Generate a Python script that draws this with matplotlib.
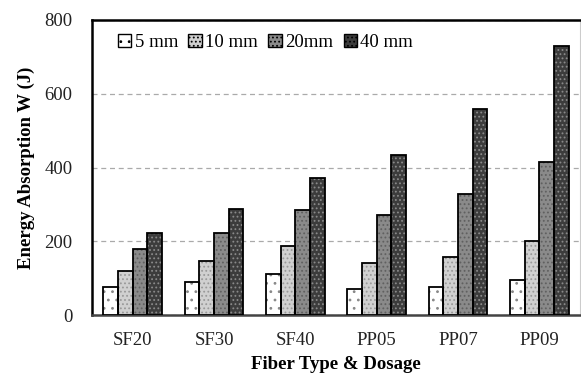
import matplotlib
matplotlib.use("Agg")
import matplotlib.pyplot as plt
import numpy as np

categories = ["SF20", "SF30", "SF40", "PP05", "PP07", "PP09"]
series_names = ["5 mm", "10 mm", "20mm", "40 mm"]
v5 = [76, 90, 111, 70, 75, 96]
v10 = [120, 147, 188, 140, 156, 202]
v20 = [178, 222, 285, 272, 327, 416]
v40 = [223, 287, 372, 435, 558, 730]
yticks = [0, 200, 400, 600, 800]

plt.rcParams['font.family'] = ['Liberation Serif', 'DejaVu Serif']
plt.rcParams['hatch.linewidth'] = 0.8

fig = plt.figure(figsize=(5.81, 3.75), dpi=100)
ax = fig.add_axes([92/581, 1-315/375, (580-92)/581, (315-20)/375])

faces = ['#ffffff', '#d0d0d0', '#8a8a8a', '#3c3c3c']
hatches = ['..', '....', '....', '....']
hcolors = ['#888888', '#999999', '#606060', '#8a8a8a']
x = np.arange(len(categories))
w = 0.18
data = [v5, v10, v20, v40]
for i, (vals, name) in enumerate(zip(data, series_names)):
    pos = x + (i - 1.5) * w
    ax.bar(pos, vals, width=w, color=faces[i], edgecolor=hcolors[i],
           hatch=hatches[i], linewidth=0, label=name, zorder=3)
    ax.bar(pos, vals, width=w, color='none', edgecolor='black', linewidth=1.3, zorder=4)

ax.set_xlim(-0.5, len(categories) - 0.5)
ax.set_ylim(0, 800)
ax.set_yticks(yticks)
ax.set_yticklabels([str(t) for t in yticks], fontsize=13.5, color='#222222')
ax.set_xticks(x)
ax.set_xticklabels(categories, fontsize=13.5, color='#222222')
ax.tick_params(axis='y', length=0, pad=14)
ax.tick_params(axis='x', length=0, pad=12)
ax.yaxis.grid(True, linestyle=(0, (4, 3)), color='#aaaaaa', linewidth=0.9, zorder=0)
ax.set_axisbelow(True)

for s in ['left', 'top']:
    ax.spines[s].set_linewidth(1.8)
    ax.spines[s].set_color('black')
ax.spines['bottom'].set_linewidth(1.8)
ax.spines['bottom'].set_color('#444444')
ax.spines['right'].set_linewidth(0.8)
ax.spines['right'].set_color('#cccccc')

ax.set_ylabel("Energy Absorption W (J)", fontsize=13.5, fontweight='bold', labelpad=7)
ax.set_xlabel("Fiber Type & Dosage", fontsize=13.5, fontweight='bold', labelpad=5)

leg = ax.legend(loc='upper left', ncol=4, frameon=False, fontsize=13.5,
                handlelength=0.7, handleheight=0.7, handletextpad=0.2,
                columnspacing=0.55, bbox_to_anchor=(0.03, 0.99), borderaxespad=0.2)
for h in leg.legend_handles:
    h.set_edgecolor('black')
    h.set_linewidth(1.0)

fig.savefig("out.png", dpi=100)
